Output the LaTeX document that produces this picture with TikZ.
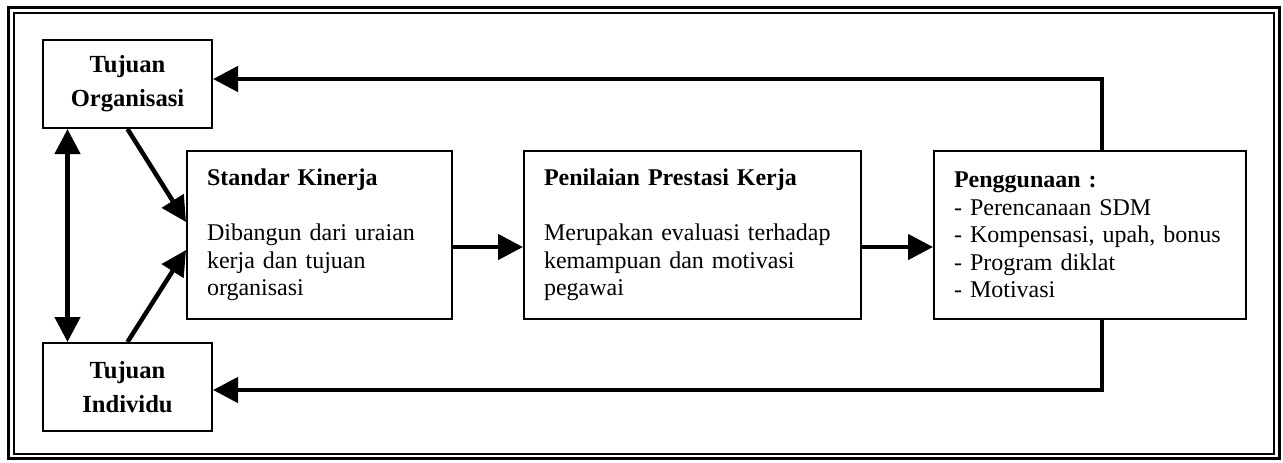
\documentclass[tikz,border=0pt]{standalone}
\usepackage{fontspec}
\setmainfont{Liberation Serif}
\usetikzlibrary{positioning,arrows.meta}
\tikzset{goal node/.style={draw, line width=1pt, minimum width=84.5pt, minimum height=44pt, inner sep=0pt, align=center, font=\fontsize{12.3pt}{17pt}\selectfont\bfseries},
         stage node/.style={draw, line width=1pt, minimum height=84pt, inner xsep=10pt, inner ysep=0pt, align=left, font=\fontsize{12pt}{13.8pt}\selectfont},
         flow/.style={line width=2.25pt, -{Triangle[length=12.5pt, width=12.5pt]}}}

\begin{document}
\begin{tikzpicture}[x=0.5pt, y=-0.5pt]
			\useasboundingbox (0,0) rectangle (1283,462);
			% Frame around the whole figure
			\draw[line width=1.5pt] (8.5,7.5) rectangle (1279,458.5);
			\draw[line width=1pt] (13.5,13) rectangle (1274,454);
			% Goals on the left
		    \node[goal node] (to) at (127.5,84) {Tujuan\\Organisasi};
		    \node[goal node] (ti) [below = 106.5pt of to] {Tujuan\\Individu};
			% The three stages
		    \node[stage node, text width=112.5pt] (sk) at (319.5,235) {\textbf{Standar Kinerja}\\[13.8pt]Dibangun dari uraian\\kerja dan tujuan\\organisasi};
		    \node[stage node, text width=148.5pt] (pp) [right = 35pt of sk] {\textbf{Penilaian Prestasi Kerja}\\[13.8pt]Merupakan evaluasi terhadap\\kemampuan dan motivasi\\pegawai};
		    \node[stage node, text width=136pt] (pg) [right = 35.5pt of pp] {\textbf{Penggunaan :}\\- Perencanaan SDM\\- Kompensasi, upah, bonus\\- Program diklat\\- Motivasi};

		    % Arrows between the nodes
		    \draw[flow, {Triangle[length=12.5pt, width=12.5pt]}-{Triangle[length=12.5pt, width=12.5pt]}] ([xshift=-30pt]to.south) -- ([xshift=-30pt]ti.north);
		    \draw[flow] (to.south) -- ([yshift=6.5pt]sk.west);
		    \draw[flow] (ti.north) -- ([yshift=-7.5pt]sk.west);
		    \draw[flow] ([yshift=-6pt]sk.east) -- ([yshift=-6pt]pp.west);
		    \draw[flow] ([yshift=-6pt]pp.east) -- ([yshift=-6pt]pg.west);
		    % Feedback from the use of the results
		    \draw[flow] ([xshift=6pt]pg.north) |- ([yshift=2.5pt]to.east);
		    \draw[flow] ([xshift=6pt]pg.south) |- ([yshift=-1.5pt]ti.east);
		\end{tikzpicture}
\end{document}
